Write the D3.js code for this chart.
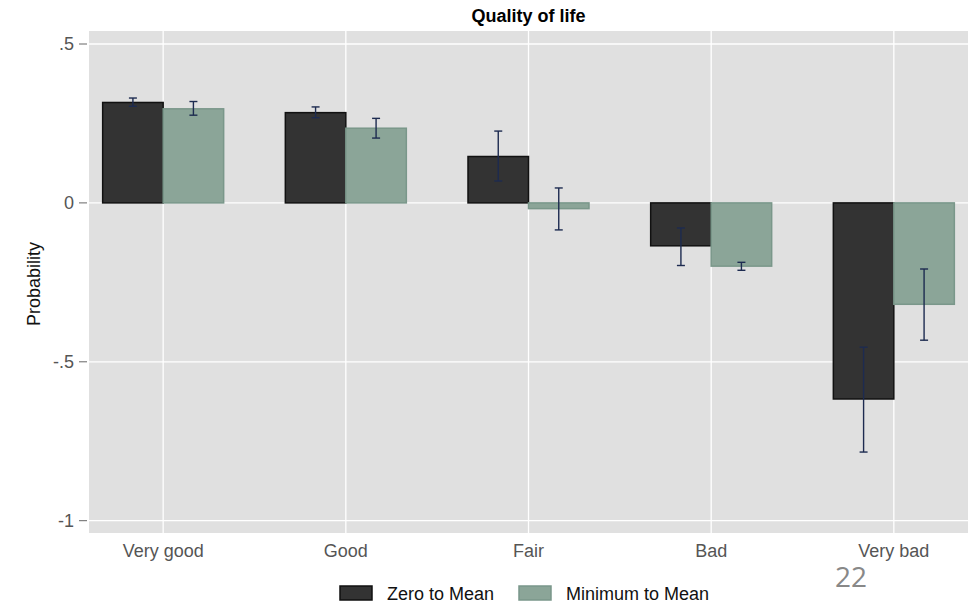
<!DOCTYPE html>
<html>
<head>
<meta charset="utf-8">
<script src="https://cdn.jsdelivr.net/npm/d3@7"></script>
<style>
  body { margin: 0; background: #fff; }
  svg { font-family: "Liberation Sans", Arial, sans-serif; }
</style>
</head>
<body>
<div id="chart"></div>
<script>
// data
var categories = ["Very good", "Good", "Fair", "Bad", "Very bad"];
var seriesNames = ["Zero to Mean", "Minimum to Mean"];
var zeroMean = [0.316, 0.284, 0.146, -0.135, -0.617];
var zeroLo   = [0.304, 0.268, 0.069, -0.197, -0.784];
var zeroHi   = [0.330, 0.302, 0.226, -0.079, -0.454];
var minMean  = [0.296, 0.235, -0.018, -0.199, -0.319];
var minLo    = [0.276, 0.204, -0.085, -0.212, -0.432];
var minHi    = [0.319, 0.266, 0.047, -0.187, -0.208];
var yTicks = [0.5, 0, -0.5, -1];
var yTickLabels = [".5", "0", "-.5", "-1"];

var W = 978, H = 604;
var plot = {left: 89, right: 968, top: 31, bottom: 533};
var fills = ["#333333", "#8ba598"];
var strokes = ["#111111", "#7a978a"];

var svg = d3.select("#chart").append("svg").attr("width", W).attr("height", H);

var x = d3.scalePoint().domain(categories).range([plot.left, plot.right]).padding(0.406);
var y = d3.scaleLinear().domain([-1, 0.5]).range([520.7, 44]);
var barW = 60.5;

svg.append("rect")
  .attr("x", plot.left).attr("y", plot.top)
  .attr("width", plot.right - plot.left).attr("height", plot.bottom - plot.top)
  .attr("fill", "#e0e0e0");

// grid
svg.selectAll(".hgrid").data(yTicks).enter().append("line")
  .attr("x1", plot.left).attr("x2", plot.right)
  .attr("y1", d => y(d)).attr("y2", d => y(d))
  .attr("stroke", "#fff").attr("stroke-width", 1.3);
svg.selectAll(".vgrid").data(categories).enter().append("line")
  .attr("x1", d => x(d)).attr("x2", d => x(d))
  .attr("y1", plot.top).attr("y2", plot.bottom)
  .attr("stroke", "#fff").attr("stroke-width", 1.3);

// y axis ticks
var yAxis = svg.append("g");
yAxis.selectAll("line").data(yTicks).enter().append("line")
  .attr("x1", 79).attr("x2", 87)
  .attr("y1", d => y(d)).attr("y2", d => y(d))
  .attr("stroke", "#666").attr("stroke-width", 1);
yAxis.selectAll("text").data(yTicks).enter().append("text")
  .attr("x", 74).attr("y", d => y(d) + 6)
  .attr("text-anchor", "end").attr("font-size", 18).attr("fill", "#555")
  .text((d, i) => yTickLabels[i]);

svg.append("text")
  .attr("transform", "translate(40," + ((plot.top + plot.bottom) / 2 + 2) + ") rotate(-90)")
  .attr("text-anchor", "middle").attr("font-size", 18).attr("fill", "#111")
  .text("Probability");

// x labels
svg.selectAll(".xlab").data(categories).enter().append("text")
  .attr("x", d => x(d)).attr("y", 557)
  .attr("text-anchor", "middle").attr("font-size", 18).attr("fill", "#555")
  .text(d => d);

svg.append("text")
  .attr("x", (plot.left + plot.right) / 2).attr("y", 22)
  .attr("text-anchor", "middle").attr("font-size", 18).attr("font-weight", "bold")
  .text("Quality of life");

var series = [
  {means: zeroMean, lo: zeroLo, hi: zeroHi, off: -1},
  {means: minMean, lo: minLo, hi: minHi, off: 0}
];

series.forEach(function (s, si) {
  var g = svg.append("g");
  g.selectAll("rect").data(s.means).enter().append("rect")
    .attr("x", (d, i) => x(categories[i]) + s.off * barW)
    .attr("y", d => y(Math.max(0, d)))
    .attr("width", barW)
    .attr("height", d => Math.abs(y(d) - y(0)))
    .attr("fill", fills[si]).attr("stroke", strokes[si]).attr("stroke-width", 1.5);
});

series.forEach(function (s) {
  var g = svg.append("g").attr("stroke", "#1d2b50").attr("stroke-width", 1.4);
  s.means.forEach(function (d, i) {
    var cx = x(categories[i]) + s.off * barW + barW / 2;
    g.append("line").attr("x1", cx).attr("x2", cx).attr("y1", y(s.lo[i])).attr("y2", y(s.hi[i]));
    g.append("line").attr("x1", cx - 4).attr("x2", cx + 4).attr("y1", y(s.lo[i])).attr("y2", y(s.lo[i]));
    g.append("line").attr("x1", cx - 4).attr("x2", cx + 4).attr("y1", y(s.hi[i])).attr("y2", y(s.hi[i]));
  });
});

// legend
var legX = [340, 519];
var leg = svg.selectAll(".leg").data(seriesNames).enter().append("g");
leg.append("rect")
  .attr("x", (d, i) => legX[i]).attr("y", 586)
  .attr("width", 32).attr("height", 14)
  .attr("fill", (d, i) => fills[i]).attr("stroke", (d, i) => strokes[i]).attr("stroke-width", 1.5);
leg.append("text")
  .attr("x", (d, i) => legX[i] + 47).attr("y", 600)
  .attr("font-size", 18).attr("fill", "#111")
  .text(d => d);

// slide number
svg.append("text")
  .attr("x", 835).attr("y", 587)
  .attr("font-family", "'Open Sans', sans-serif")
  .attr("font-size", 28).attr("fill", "#888")
  .text("22");
</script>
</body>
</html>
